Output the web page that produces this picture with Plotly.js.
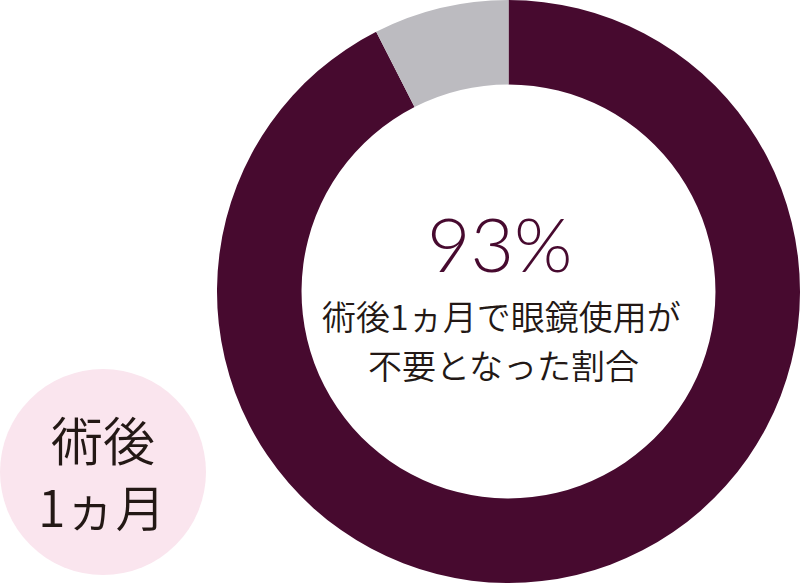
<!DOCTYPE html>
<html>
<head>
<meta charset="utf-8">
<script src="https://cdn.plot.ly/plotly-3.0.1.min.js"></script>
<style>html,body{margin:0;padding:0;background:#fff;}#chart{width:800px;height:583px;}</style>
</head>
<body>
<div id="chart"></div>
<script>
const categories = ["眼鏡使用が不要", "眼鏡使用が必要"];
const values = [92.5, 7.5];
const sliceColors = ["#470a2f", "#bcbbc0"];
const centerValue = "93%";
const centerLines = ["術後1ヵ月で眼鏡使用が", "不要となった割合"];
const badgeLines = ["術後", "1ヵ月"];

const W = 800, H = 583;
const py = p => 1 - p / H;
const px = p => p / W;
const jp = "Noto Sans CJK JP";

const data = [{
  type: "pie",
  labels: categories,
  values: values,
  hole: 0.71,
  sort: false,
  direction: "clockwise",
  rotation: 0,
  textinfo: "none",
  hoverinfo: "label+value",
  marker: {colors: sliceColors, line: {width: 0}},
  domain: {x: [px(217), 1], y: [0, 1]},
  showlegend: false
}];

const layout = {
  width: W, height: H,
  margin: {l: 0, r: 0, t: 0, b: 0},
  paper_bgcolor: "#ffffff",
  plot_bgcolor: "#ffffff",
  showlegend: false,
  shapes: [{
    type: "circle", xref: "paper", yref: "paper",
    x0: px(0), x1: px(206), y0: py(575), y1: py(369),
    fillcolor: "#fae5ee", line: {width: 0}, layer: "below"
  }],
  annotations: [
    {text: centerValue, x: px(499), y: py(243), xref: "paper", yref: "paper", showarrow: false,
     xanchor: "center", yanchor: "middle", font: {family: "Lato, 'Noto Sans', sans-serif", size: 75, color: "#470a2f", weight: 300}},
    {text: centerLines[0], x: px(502), y: py(315), xref: "paper", yref: "paper", showarrow: false,
     xanchor: "center", yanchor: "middle", font: {family: jp, size: 34, color: "#231815", weight: 350}},
    {text: centerLines[1], x: px(503), y: py(364), xref: "paper", yref: "paper", showarrow: false,
     xanchor: "center", yanchor: "middle", font: {family: jp, size: 34, color: "#231815", weight: 350}},
    {text: badgeLines[0], x: px(103), y: py(438), xref: "paper", yref: "paper", showarrow: false,
     xanchor: "center", yanchor: "middle", font: {family: jp, size: 52, color: "#231815", weight: 350}},
    {text: badgeLines[1], x: px(101), y: py(505), xref: "paper", yref: "paper", showarrow: false,
     xanchor: "center", yanchor: "middle", font: {family: jp, size: 50, color: "#231815", weight: 350}}
  ]
};

Plotly.newPlot("chart", data, layout, {displayModeBar: false, staticPlot: true});
</script>
</body>
</html>
